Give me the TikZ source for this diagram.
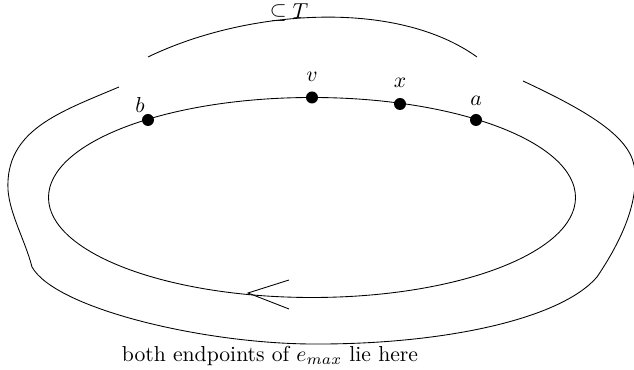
\documentclass[tikz,border=0pt]{standalone}
\usepackage{amsmath}
\usepackage{amssymb}
\usepackage{tikz}
\usetikzlibrary{positioning, calc}
\tikzset{
  vertex/.style={
    circle, fill=black, draw=none, inner sep=0pt,
    minimum size=12*0.462pt
  },
  vlabel/.style={
    inner sep=0pt, font=\normalsize
  },
  curve/.style={draw=black, line width=0.4pt},
  tipline/.style={draw=black, line width=0.4pt}
}

\begin{document}
\begin{tikzpicture}[x=0.462pt, y=-0.462pt]
  \useasboundingbox (0,0) rectangle (634,370);

  % inner cycle
  \draw[curve] (312,197.5) ellipse [x radius=263.5, y radius=100];

  \node[vertex] (b) at (148,120) {};
  \node[vertex] (v) at (312,97.5) {};
  \node[vertex] (x) at (400,104) {};
  \node[vertex] (a) at (476,120) {};

  \node[vlabel] (lb) at (140,105) {$b$};
  \node[vlabel] (lv) at (312,77) {$v$};
  \node[vlabel] (lx) at (400,83) {$x$};
  \node[vlabel] (la) at (476,101) {$a$};

  % arrowhead on the cycle
  \coordinate (tip) at (248,293);
  \coordinate (wing1) at (289,280);
  \coordinate (wing2) at (289,309);
  \draw[tipline] (wing1) -- (tip) -- (wing2);

  % the part in T
  \coordinate (t1) at (148,57);
  \coordinate (t2) at (477,57);
  \draw[curve] (t1) .. controls (245,10) and (395,-2) .. (t2);
  \node[vlabel] (sub) at (289,13) {$\subseteq T$};

  % outer region
  \coordinate (o1) at (523,81);
  \coordinate (o2) at (119,87);
  \draw[curve] (o1) .. controls (585,110) and (628,135) .. (634,165)
    .. controls (640,200) and (622,240) .. (597,277)
    .. controls (560,320) and (440,345) .. (310,344)
    .. controls (200,343) and (55,308) .. (32,267)
    .. controls (25,240) and (10,215) .. (8,190)
    .. controls (5,130) and (60,112) .. (o2);

  \node[vlabel] (note) at (270,356) {both endpoints of $e_{max}$ lie here};
\end{tikzpicture}
\end{document}
